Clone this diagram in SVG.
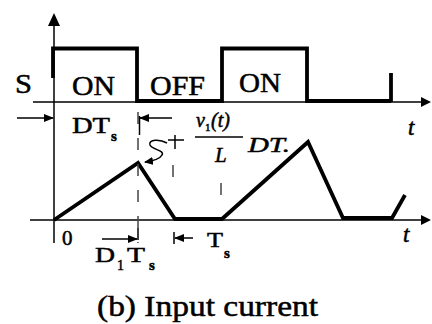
<svg xmlns="http://www.w3.org/2000/svg" width="432" height="324" viewBox="0 0 432 324">
<style>
.it{font-style:italic}
.ax{stroke:#000;stroke-width:1.5;fill:none}
.th{stroke:#000;stroke-width:3.8;fill:none;stroke-linejoin:miter}
.dim{stroke:#000;stroke-width:1.5;fill:none}
.dash{stroke:#444;stroke-width:1.5;fill:none;stroke-dasharray:12 14}
</style>
<defs>
<marker id="ah" markerWidth="10" markerHeight="8" refX="9" refY="4" orient="auto" markerUnits="userSpaceOnUse">
<path d="M0,0 L10,4 L0,8 z" fill="#000"/>
</marker>
<marker id="sa" markerWidth="9" markerHeight="8" refX="8" refY="4" orient="auto" markerUnits="userSpaceOnUse">
<path d="M0,0 L9,4 L0,8 z" fill="#000"/>
</marker>
</defs>
<rect width="432" height="324" fill="#fff"/>
<g id="axes">
<line class="ax" x1="54" y1="24" x2="54" y2="243"/>
<path d="M54,13 L48,26 L60,26 z" fill="#000"/>
<line class="ax" x1="33" y1="102" x2="423" y2="102"/>
<path d="M431,102 L421,97 L421,107 z" fill="#000"/>
<line class="ax" x1="30" y1="220" x2="423" y2="220"/>
<path d="M431,220 L421,215 L421,225 z" fill="#000"/>
</g>
<g id="switch-signal">
<polyline class="th" points="53,78 53,48.5 137,48.5 137,101 222,101 222,48.5 307,48.5 307,101 391,101"/>
<line class="th" x1="391" y1="73" x2="391" y2="102"/>
</g>
<g id="input-current">
<polyline class="th" points="54,220 138,163 175,219 222,219 308,142 343,218 392,218 405,195"/>
</g>
<g id="connectors">
<line class="dash" x1="138" y1="106" x2="138" y2="243" stroke-dasharray="18 22" stroke-dashoffset="-6"/>
<line class="dash" x1="173" y1="165" x2="173" y2="188" stroke-dasharray="14 6"/>
<line class="dash" x1="221" y1="183" x2="221" y2="201"/>
<line class="dim" x1="168" y1="140" x2="184" y2="140"/>
<line class="dim" x1="175" y1="135" x2="175" y2="149"/>
<path class="dim" d="M167,143 C160,139 148,139 150,145 C152,150 165,150 162,155 C160,159 152,161 145,162" marker-end="url(#sa)"/>
<line class="dim" x1="17" y1="118" x2="53" y2="118" marker-end="url(#ah)" stroke="#555"/>
<line class="dim" x1="172" y1="118" x2="140" y2="118" marker-end="url(#ah)"/>
<line class="dim" x1="139.5" y1="116" x2="139.5" y2="135"/>
<line class="dim" x1="102" y1="239" x2="137" y2="239" marker-end="url(#ah)" stroke="#555"/>
<line class="dim" x1="138" y1="228" x2="138" y2="240"/>
<line class="dim" x1="193" y1="238" x2="175" y2="238" marker-end="url(#ah)"/>
<line class="dim" x1="174" y1="232" x2="174" y2="244"/>
<line class="dim" x1="195" y1="137" x2="243" y2="137"/>
</g>
<g id="labels" font-family="'Liberation Serif', 'DejaVu Serif', serif" fill="#000" stroke="#000" stroke-width="0.5">
<text x="15" y="93" font-size="27" textLength="17" lengthAdjust="spacingAndGlyphs">S</text>
<text x="72" y="95" font-size="27" textLength="43" lengthAdjust="spacingAndGlyphs">ON</text>
<text x="150" y="95" font-size="27" textLength="55" lengthAdjust="spacingAndGlyphs">OFF</text>
<text x="239" y="92" font-size="27" textLength="42" lengthAdjust="spacingAndGlyphs">ON</text>
<text class="it" x="408" y="135" font-size="23">t</text>
<text class="it" x="403" y="242" font-size="23">t</text>
<text x="72" y="133" font-size="23" textLength="38" lengthAdjust="spacingAndGlyphs">DT</text>
<text x="111" y="141" font-size="15" font-weight="bold">s</text>
<text x="62" y="245" font-size="21">0</text>
<text x="95" y="262" font-size="21" textLength="20" lengthAdjust="spacingAndGlyphs">D</text>
<text x="117" y="270" font-size="14">1</text>
<text x="127" y="262" font-size="21" textLength="18" lengthAdjust="spacingAndGlyphs">T</text>
<text x="149" y="270" font-size="15" font-weight="bold">s</text>
<text x="207" y="247" font-size="22" textLength="16" lengthAdjust="spacingAndGlyphs">T</text>
<text x="224" y="258" font-size="15" font-weight="bold">s</text>
<text class="it" x="196" y="127" font-size="20">v</text>
<text x="205" y="131" font-size="11">1</text>
<text class="it" x="211" y="127" font-size="20">(t)</text>
<text class="it" x="215" y="162" font-size="21">L</text>
<text class="it" x="248" y="152" font-size="22" textLength="42" lengthAdjust="spacingAndGlyphs">DT.</text>
<text x="97" y="316" font-size="29" textLength="221" lengthAdjust="spacingAndGlyphs">(b) Input current</text>
</g>
</svg>
